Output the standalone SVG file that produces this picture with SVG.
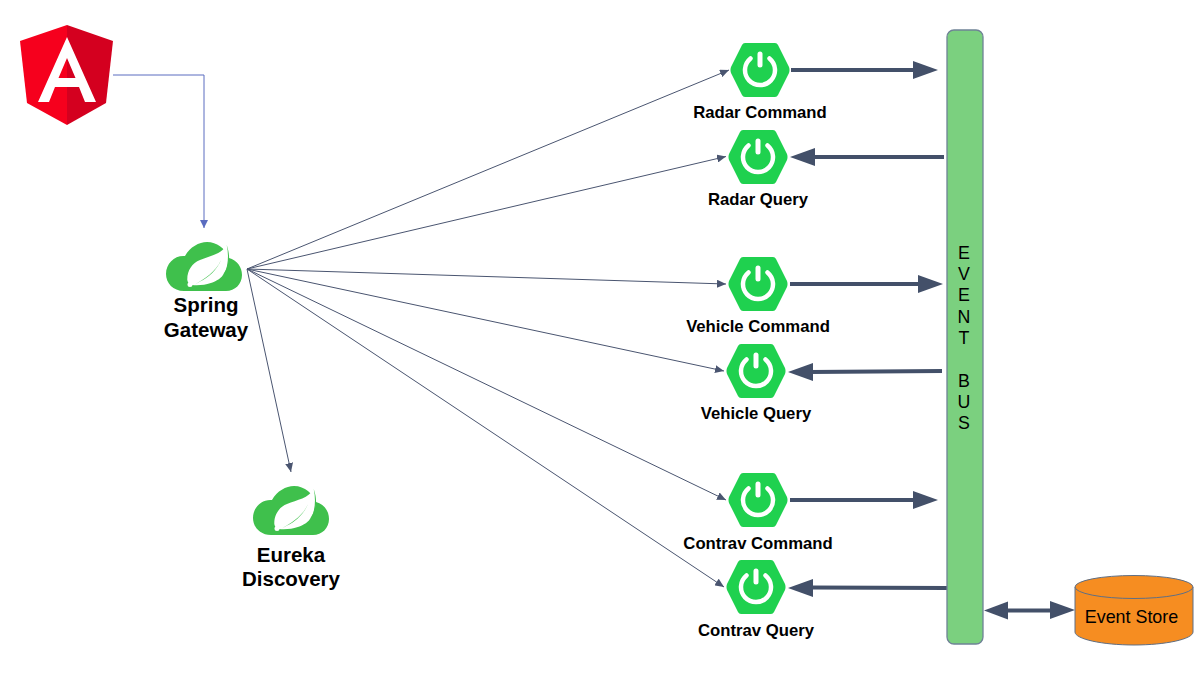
<svg xmlns="http://www.w3.org/2000/svg" width="1203" height="682" viewBox="0 0 1203 682">
<style>
text{font-family:"Liberation Sans",Arial,sans-serif;fill:#000}
.lbl{font-size:16.7px;font-weight:bold;text-anchor:middle}
.big{font-size:20.5px;font-weight:bold;text-anchor:middle}
.thin{fill:none;stroke:#4a5570;stroke-width:1;marker-end:url(#a)}
.thick{fill:none;stroke:#435069;stroke-width:4}
.head{fill:#435069}
.hex{fill:#1fd14f}
.pw{fill:none;stroke:#fff;stroke-width:4.5;stroke-linecap:round}
.cloud{fill:#3fc04c}
.leaf{fill:#fff}
.ev{font-size:17.8px;text-anchor:middle}
</style>
<defs>
<marker id="a" markerUnits="userSpaceOnUse" markerWidth="10" markerHeight="8" refX="9" refY="4" orient="auto"><path d="M0 0L9 4L0 8Z" fill="#4a5570"/></marker>
<marker id="b" markerUnits="userSpaceOnUse" markerWidth="9" markerHeight="8" refX="8" refY="4" orient="auto"><path d="M0 0L8 4L0 8Z" fill="#5a6cc0"/></marker>
<g id="boot"><path class="hex" d="M-15 -27L15 -27Q17 -27 18 -25L29 -3Q30 0 29 3L18 25Q17 27 15 27L-15 27Q-17 27 -18 25L-29 3Q-30 0 -29 -3L-18 -25Q-17 -27 -15 -27Z"/><path class="pw" d="M-9.500 -11.500A15 15 0 1 0 9.500 -11.500"/><path d="M0 -16V-5" stroke="#fff" stroke-width="5" stroke-linecap="round" fill="none"/></g>
<g id="spring"><path class="cloud" d="M-20 24C-31 24 -38 16 -38 7C-38 -4 -29 -12 -19 -11C-14 -20 -5 -25 3 -25C14 -25 22 -17 25 -9C33 -7 38 0 38 8C38 17 31 24 22 24Z"/><path class="leaf" d="M22.700 -22C18 -13 6 -11 -4 -7C-12 -4 -17 4 -16.700 13C-16.500 15 -15 17 -12 18C-6 18.500 2 18 6 16.300C13 14 18 11 20 6C24 0 27 -10 22.700 -22Z"/><path d="M22.700 -22C27 -10 25 0 21 6C24 -2 25 -12 22.700 -22Z" fill="#3fc04c"/><path d="M-9 17.500C0 12 12 5 17 -7C13 3 4 11 -4 14.500" fill="#3fc04c"/><circle class="leaf" cx="-14" cy="17.500" r="2.500"/></g>
</defs>
<g id="connectors">
<path d="M113 75H204V228" fill="none" stroke="#5a6cc0" stroke-width="1" marker-end="url(#b)"/>
<path class="thin" d="M247 269L729 70"/>
<path class="thin" d="M247 269L726 156.500"/>
<path class="thin" d="M247 269L726 284"/>
<path class="thin" d="M247 269L724 371"/>
<path class="thin" d="M247 269L726 500"/>
<path class="thin" d="M247 269L724 587"/>
<path class="thin" d="M247 269L291 472"/>
<path class="thick" d="M791 70H915"/><path class="head" d="M913 61L938 70L913 79Z"/>
<path class="thick" d="M944 157H815"/><path class="head" d="M815 148L790 157L815 166Z"/>
<path class="thick" d="M790 284H920"/><path class="head" d="M918 275L943 284L918 293Z"/>
<path class="thick" d="M942 371L810 372"/><path class="head" d="M813 363L788 372L813 381Z"/>
<path class="thick" d="M790 500H915"/><path class="head" d="M913 491L938 500L913 509Z"/>
<path class="thick" d="M947 588L812 587.500"/><path class="head" d="M813 579L788 588L813 597Z"/>
<path class="thick" d="M1005 610.500H1052"/><path class="head" d="M1008 601.500L984 610.500L1008 619.500Z"/><path class="head" d="M1050 601L1075 610L1050 619Z"/>
</g>
<g id="angular">
<path d="M67 25L20 41L27 103L67 125Z" fill="#f6001d"/>
<path d="M67 25L113 41L106 103L67 125Z" fill="#d4001f"/>
<path fill-rule="evenodd" fill="#fff" d="M67 37L38 102H49L55 87H79L85 102H96ZM67 58L75.500 78H58.500Z"/>
</g>
<g id="spring-gateway"><use href="#spring" x="204" y="267"/><text class="big" x="206" y="312">Spring</text><text class="big" x="206" y="337">Gateway</text></g>
<g id="eureka"><use href="#spring" x="291" y="511"/><text class="big" x="291" y="562">Eureka</text><text class="big" x="291" y="586">Discovery</text></g>
<g id="radar-command"><use href="#boot" x="760" y="70"/><text class="lbl" x="760" y="118">Radar Command</text></g>
<g id="radar-query"><use href="#boot" x="758" y="157"/><text class="lbl" x="758" y="205">Radar Query</text></g>
<g id="vehicle-command"><use href="#boot" x="758" y="284"/><text class="lbl" x="758" y="332">Vehicle Command</text></g>
<g id="vehicle-query"><use href="#boot" x="756" y="371"/><text class="lbl" x="756" y="419">Vehicle Query</text></g>
<g id="contrav-command"><use href="#boot" x="758" y="500"/><text class="lbl" x="758" y="549">Contrav Command</text></g>
<g id="contrav-query"><use href="#boot" x="756" y="587"/><text class="lbl" x="756" y="636">Contrav Query</text></g>
<g id="event-bus"><rect x="947" y="30" width="36" height="614" rx="7" fill="#7bd07f" stroke="#6f8296" stroke-width="1.300"/>
<text class="ev"><tspan x="964" y="258.500">E</tspan><tspan x="964" y="279.500">V</tspan><tspan x="964" y="300.500">E</tspan><tspan x="964" y="322.500">N</tspan><tspan x="964" y="343.500">T</tspan><tspan x="964" y="386.500">B</tspan><tspan x="964" y="407.500">U</tspan><tspan x="964" y="428.500">S</tspan></text></g>
<g id="event-store"><path d="M1075 587V632C1075 639 1102 645 1134 645C1166 645 1193 639 1193 632V587Z" fill="#f68d21" stroke="#5f6f85" stroke-width="1"/><ellipse cx="1134" cy="587" rx="59" ry="11.500" fill="#f68d21" stroke="#5f6f85" stroke-width="1"/><text x="1131.500" y="623" font-size="17.900" text-anchor="middle">Event Store</text></g>
</svg>
